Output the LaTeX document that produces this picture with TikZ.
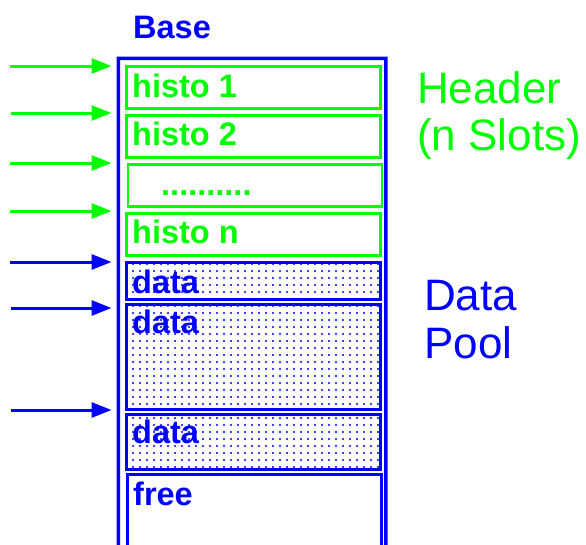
\documentclass[tikz,border=0pt]{standalone}
\usepackage{fontspec}
\setmainfont{Liberation Sans}
\usetikzlibrary{arrows.meta,patterns}
\definecolor{hgreen}{RGB}{0,255,0}
\definecolor{hblue}{RGB}{0,0,255}
\pgfdeclarepatternformonly{sparsedots}{\pgfqpoint{-1.5pt}{-1.5pt}}{\pgfqpoint{1.5pt}{1.5pt}}{\pgfqpoint{7pt}{7pt}}{\pgfpathcircle{\pgfqpoint{0pt}{0pt}}{1.1pt}\pgfusepath{fill}}
\begin{document}
\begin{tikzpicture}[x=1pt,y=-1pt,
  slotbox/.style={draw=hgreen,line width=2.5pt,anchor=north west,minimum width=254pt,inner sep=0pt},
  databox/.style={draw=hblue,line width=2.5pt,anchor=north west,minimum width=254pt,inner sep=0pt,pattern=sparsedots,pattern color=hblue},
  freebox/.style={draw=hblue,line width=2.5pt,anchor=north west,minimum width=254pt,inner sep=0pt},
  outerbox/.style={anchor=north west,minimum width=271pt,minimum height=520pt,inner sep=0pt,outer sep=0pt},
  frame/.style={fill=hblue,even odd rule},
  slottext/.style={text=hgreen,anchor=base west,inner sep=0pt,font=\fontsize{32.5}{38}\selectfont\bfseries},
  datatext/.style={text=hblue,anchor=base west,inner sep=0pt,font=\fontsize{32.5}{38}\selectfont\bfseries},
  bigtext/.style={anchor=base west,inner sep=0pt,font=\fontsize{44}{48}\selectfont},
  garrow/.style={draw=hgreen,line width=3pt,-{Triangle[length=20pt,width=15pt]},shorten >=5pt},
  barrow/.style={draw=hblue,line width=3pt,-{Triangle[length=20pt,width=15pt]},shorten >=5pt}]
\useasboundingbox (0,0) rectangle (586,544);
% outer memory block (runs past the bottom edge)
\node[outerbox] (outer) at (116.5,56.5) {};
\fill[frame] (outer.north west) rectangle (outer.south east)
  ([xshift=3.5pt,yshift=-3.5pt]outer.north west) rectangle ([xshift=-3.5pt,yshift=3.5pt]outer.south east);
\node[datatext] (base) at (133,38) {Base};
% header slots
\node[slotbox,minimum height=42pt] (h1) at (125,65) {};
\node[slotbox,minimum height=42pt] (h2) at (125,114) {};
\node[slotbox,minimum height=42pt] (hd) at (126.5,163) {};
\node[slotbox,minimum height=42pt] (hn) at (125,212) {};
\node[slottext] (t1) at (132,97) {histo 1};
\node[slottext] (t2) at (132,145) {histo 2};
\node[slottext] (td) at (161,195) {..........};
\node[slottext] (tn) at (132,243) {histo n};
% data pool
\node[databox,minimum height=37pt] (d1) at (125,261) {};
\node[databox,minimum height=105pt] (d2) at (125,303) {};
\node[databox,minimum height=55pt] (d3) at (125,413) {};
\node[freebox,minimum height=75pt] (fr) at (126,473) {};
\node[datatext] (td1) at (132,293) {data};
\node[datatext] (td2) at (132,333) {data};
\node[datatext] (td3) at (132,443) {data};
\node[datatext] (tfr) at (133,505) {free};
% side labels
\node[bigtext,text=hgreen] (hdr1) at (417,103) {Header};
\node[bigtext,text=hgreen] (hdr2) at (417,150) {(n Slots)};
\node[bigtext,text=hblue] (dp1) at (424,310) {Data};
\node[bigtext,text=hblue] (dp2) at (424,358) {Pool};
% pointers
\coordinate (a1) at (10,66);
\coordinate (a2) at (11,113);
\coordinate (a3) at (10,163);
\coordinate (a4) at (10,211);
\coordinate (a5) at (10,262);
\coordinate (a6) at (11,308);
\coordinate (a7) at (11,410);
\draw[garrow] (a1) -- (a1 -| outer.west);
\draw[garrow] (a2) -- (a2 -| outer.west);
\draw[garrow] (a3) -- (a3 -| outer.west);
\draw[garrow] (a4) -- (a4 -| outer.west);
\draw[barrow] (a5) -- (a5 -| outer.west);
\draw[barrow] (a6) -- (a6 -| outer.west);
\draw[barrow] (a7) -- (a7 -| outer.west);
\end{tikzpicture}
\end{document}
